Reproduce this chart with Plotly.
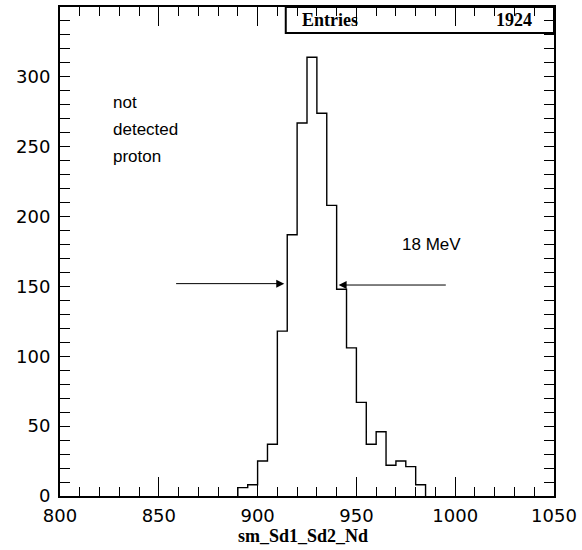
import plotly.graph_objects as go

# ---- data ----
bin_start = 890
bin_width = 5
counts = [6, 8, 25, 37, 118, 187, 267, 314, 274, 208, 148, 106, 67, 37, 46, 22, 25, 21, 8]
entries = 1924
x_ticks = [800, 850, 900, 950, 1000, 1050]
y_ticks = [0, 50, 100, 150, 200, 250, 300]
x_range = [800, 1050]
y_range = [0, 350]
label_lines = ["not", "detected", "proton"]
label_pos = [(826, 282), (826, 262), (826, 243)]
width_text = "18 MeV"
width_text_pos = (972, 180)
left_arrow = ((858, 152), (913.5, 152))   # (tail, tip)
right_arrow = ((996, 151), (941, 151))
x_title = "sm_Sd1_Sd2_Nd"

# outline of histogram (step)
edges = [bin_start + bin_width * i for i in range(len(counts) + 1)]
xs = [edges[0]] + edges
ys = [0] + counts + [0]

fig = go.Figure()
fig.add_trace(go.Scatter(x=xs, y=ys, mode="lines", line=dict(color="black", width=1.4, shape="hv"),
                         hoverinfo="skip", showlegend=False))

tickfont = dict(family="DejaVu Sans", size=18, color="black")
fig.update_xaxes(range=x_range, tickmode="array", tickvals=x_ticks, ticks="inside", ticklen=19,
                 tickwidth=1, tickcolor="black", showline=True, linecolor="black", linewidth=2,
                 mirror="ticks", showgrid=False, zeroline=False, tickfont=tickfont, ticklabelstandoff=2,
                 minor=dict(tickmode="array", tickvals=list(range(x_range[0], x_range[1] + 1, 10)),
                            ticks="inside", ticklen=9, tickwidth=1, tickcolor="black", showgrid=False))
fig.update_yaxes(range=y_range, tickmode="array", tickvals=y_ticks, ticks="inside", ticklen=10,
                 tickwidth=1, tickcolor="black", showline=True, linecolor="black", linewidth=2,
                 mirror="ticks", showgrid=False, zeroline=False, tickfont=tickfont, ticklabelstandoff=4,
                 minor=dict(tickmode="array", tickvals=list(range(y_range[0], y_range[1], 10)),
                            ticks="inside", ticklen=10, tickwidth=1, tickcolor="black", showgrid=False))

ann = []
for t, (ax_, ay_) in zip(label_lines, label_pos):
    ann.append(dict(x=ax_, y=ay_, xref="x", yref="y", text=t, showarrow=False, xanchor="left",
                    yanchor="middle", font=dict(family="Liberation Sans", size=17, color="black")))
ann.append(dict(x=width_text_pos[0], y=width_text_pos[1], xref="x", yref="y", text=width_text,
                showarrow=False, xanchor="left", yanchor="middle",
                font=dict(family="Liberation Sans", size=17, color="black")))
for (tail, tip) in (left_arrow, right_arrow):
    ann.append(dict(x=tip[0], y=tip[1], xref="x", yref="y", ax=tail[0], ay=tail[1], axref="x", ayref="y",
                    text="", showarrow=True, arrowhead=2, arrowsize=1.6, arrowwidth=1, arrowcolor="black"))
# stats box
ann.append(dict(x=0.486, y=0.9735, xref="paper", yref="paper", text="<b>Entries</b>", showarrow=False,
                xanchor="left", yanchor="middle", font=dict(family="Liberation Serif", size=18, color="black")))
ann.append(dict(x=0.959, y=0.9735, xref="paper", yref="paper", text="<b>%d</b>" % entries, showarrow=False,
                xanchor="right", yanchor="middle", font=dict(family="Liberation Serif", size=18, color="black")))
ann.append(dict(x=0.491, y=-0.0815, xref="paper", yref="paper", text="<b>%s</b>" % x_title, showarrow=False,
                xanchor="center", yanchor="middle", font=dict(family="Liberation Serif", size=18, color="black")))

fig.update_layout(
    width=582, height=550, margin=dict(l=60, r=25, t=5, b=54),
    paper_bgcolor="white", plot_bgcolor="white", annotations=ann,
    shapes=[dict(type="rect", xref="paper", yref="paper", x0=0.457, x1=1.0, y0=0.947, y1=1.0,
                 line=dict(color="black", width=2))],
)
fig.write_html("out.html")
